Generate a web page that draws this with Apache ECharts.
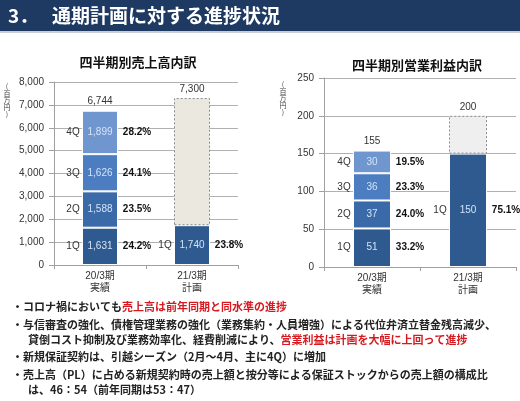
<!DOCTYPE html>
<html><head><meta charset="utf-8">
<script src="https://cdn.jsdelivr.net/npm/echarts@6/dist/echarts.min.js"></script>
<style>html,body{margin:0;padding:0;background:#fff}#c{width:520px;height:401px}</style>
</head><body><div id="c"></div>
<script>
// ---- data ----
const categories = ['20/3期\n実績', '21/3期\n計画'];
const quarterNames = ['1Q', '2Q', '3Q', '4Q'];
const salesActual = [1631, 1588, 1626, 1899];
const salesActualPct = ['24.2%', '23.5%', '24.1%', '28.2%'];
const salesPlan1Q = 1740;
const salesPlan1QPct = '23.8%';
const salesTotals = [6744, 7300];
const profitActual = [51, 37, 36, 30];
const profitActualPct = ['33.2%', '24.0%', '23.3%', '19.5%'];
const profitPlan1Q = 150;
const profitPlan1QPct = '75.1%';
const profitTotals = [155, 200];
const salesTicks = [0, 1000, 2000, 3000, 4000, 5000, 6000, 7000, 8000];
const profitTicks = [0, 50, 100, 150, 200, 250];

// ---- styles ----
const qColors = ['#2f5a8f', '#3b6aa8', '#4c7dc0', '#7096d0'];
const NUM = "'Liberation Sans', 'Noto Sans CJK JP', sans-serif";
const JP = "'Noto Sans CJK JP', sans-serif";

function segLabel(names, vals, pcts, barW) {
  const wa = 18, wc = 38;
  return {
    show: true, position: 'inside', offset: [(wc - wa) / 2, 0],
    formatter: p => (vals[p.dataIndex] == null ? '' :
      '{a|' + names[p.dataIndex] + '}{b|' + vals[p.dataIndex].toLocaleString('en-US') + '}{c|' + pcts[p.dataIndex] + '}'),
    rich: {
      a: { width: wa, fontSize: 10, color: '#333', fontFamily: NUM },
      b: { width: barW, fontSize: 10, color: '#d4e3f7', fontFamily: NUM },
      c: { width: wc, fontSize: 10, fontWeight: 'bold', color: '#111', fontFamily: NUM }
    }
  };
}

function buildSeries(gi, actual, actualPct, plan1Q, plan1QPct, totals, restColor, barW) {
  const s = [];
  for (let q = 0; q < 4; q++) {
    const vals = [actual[q], q === 0 ? plan1Q : null];
    const names = [quarterNames[q], q === 0 ? '1Q' : null];
    const pcts = [actualPct[q], q === 0 ? plan1QPct : null];
    s.push({
      type: 'bar', xAxisIndex: gi, yAxisIndex: gi, stack: 'st' + gi, barWidth: barW,
      data: vals.map(v => v == null ? '-' : v),
      itemStyle: { color: qColors[q], borderColor: '#ffffff', borderWidth: 1 },
      label: segLabel(names, vals, pcts, barW), silent: true
    });
  }
  s.push({
    type: 'bar', xAxisIndex: gi, yAxisIndex: gi, stack: 'st' + gi, barWidth: barW,
    data: ['-', totals[1] - plan1Q],
    itemStyle: { color: restColor, borderColor: '#8a8a8a', borderWidth: 1, borderType: [2, 2] },
    silent: true
  });
  s.push({
    type: 'bar', xAxisIndex: gi, yAxisIndex: gi, barWidth: barW, barGap: '-100%', z: 1,
    data: totals,
    itemStyle: { color: 'rgba(0,0,0,0)' },
    label: { show: true, position: 'top', distance: 4, fontSize: 10, color: '#333', fontFamily: NUM,
      formatter: p => p.value.toLocaleString('en-US') },
    silent: true
  });
  return s;
}

function yAxis(gi, ticks) {
  return {
    type: 'value', gridIndex: gi, min: ticks[0], max: ticks[ticks.length - 1],
    interval: ticks[1] - ticks[0],
    axisLine: { show: true, lineStyle: { color: '#a0a0a0' } },
    axisTick: { show: true, length: 5, lineStyle: { color: '#a0a0a0' } },
    axisLabel: { fontSize: 10, color: '#333', fontFamily: NUM, margin: 10,
      formatter: v => v.toLocaleString('en-US') },
    splitLine: { lineStyle: { color: '#b0b0b0', width: 1 } }
  };
}
function xAxis(gi) {
  return {
    type: 'category', gridIndex: gi, data: categories,
    axisLine: { lineStyle: { color: '#a0a0a0' } },
    axisTick: { show: true, length: 4, lineStyle: { color: '#a0a0a0' } },
    axisLabel: { fontSize: 10, color: '#333', fontFamily: NUM, lineHeight: 12, margin: 5 }
  };
}

const chart = echarts.init(document.getElementById('c'), null, { renderer: 'canvas' });
chart.setOption({
  animation: false,
  grid: [
    { left: 54, right: 282, top: 82, bottom: 136 },
    { left: 324, right: 4, top: 78, bottom: 134 }
  ],
  xAxis: [xAxis(0), xAxis(1)],
  yAxis: [yAxis(0, salesTicks), yAxis(1, profitTicks)],
  series: [
    ...buildSeries(0, salesActual, salesActualPct, salesPlan1Q, salesPlan1QPct, salesTotals, '#ebe8df', 36),
    ...buildSeries(1, profitActual, profitActualPct, profitPlan1Q, profitPlan1QPct, profitTotals, '#efefef', 38)
  ],
  graphic: [
    { type: 'rect', shape: { x: 0, y: 0, width: 520, height: 31 }, style: { fill: '#1e3a63' }, z: 10 },
    { type: 'rect', shape: { x: 0, y: 31, width: 520, height: 2 }, style: { fill: '#c9ced6' }, z: 10 },
    { type: 'text', x: 8, y: 16, z: 11, style: { text: '3．', fill: '#fff', font: "bold 19px 'Noto Sans CJK JP'", verticalAlign: 'middle' } },
    { type: 'text', x: 52, y: 16, z: 11, style: { text: '通期計画に対する進捗状況', fill: '#fff', font: "bold 19px 'Noto Sans CJK JP'", verticalAlign: 'middle' } },
    { type: 'text', x: 138, y: 62, style: { text: '四半期別売上高内訳', fill: '#111', font: "bold 13px 'Noto Sans CJK JP'", align: 'center', verticalAlign: 'middle' } },
    { type: 'text', x: 417, y: 65, style: { text: '四半期別営業利益内訳', fill: '#111', font: "bold 13px 'Noto Sans CJK JP'", align: 'center', verticalAlign: 'middle' } },
    { type: 'text', x: 7, y: 100, style: { text: '(\n百\n万\n円\n)', fill: '#444', font: "7px 'Noto Sans CJK JP'", lineHeight: 7, align: 'center', verticalAlign: 'middle' } },
    { type: 'text', x: 283, y: 98, style: { text: '(\n百\n万\n円\n)', fill: '#444', font: "7px 'Noto Sans CJK JP'", lineHeight: 7, align: 'center', verticalAlign: 'middle' } },
    { type: 'text', x: 12, y: 307, style: { text: '・{k|コロナ禍においても}{r|売上高は前年同期と同水準の進捗}', fill: '#222', font: "bold 11px 'Noto Sans CJK JP'", verticalAlign: 'middle',
      rich: { k: { fill: '#222', font: "bold 11px 'Noto Sans CJK JP'" }, r: { fill: '#d71920', font: "bold 11px 'Noto Sans CJK JP'" } } } },
    { type: 'text', x: 12, y: 325, style: { text: '・与信審査の強化、債権管理業務の強化（業務集約・人員増強）による代位弁済立替金残高減少、', fill: '#222', font: "bold 11px 'Noto Sans CJK JP'", verticalAlign: 'middle' } },
    { type: 'text', x: 28, y: 340, style: { text: '{k|貸倒コスト抑制及び業務効率化、経費削減により、}{r|営業利益は計画を大幅に上回って進捗}', fill: '#222', font: "bold 11px 'Noto Sans CJK JP'", verticalAlign: 'middle',
      rich: { k: { fill: '#222', font: "bold 11px 'Noto Sans CJK JP'" }, r: { fill: '#d71920', font: "bold 11px 'Noto Sans CJK JP'" } } } },
    { type: 'text', x: 12, y: 357, style: { text: '・新規保証契約は、引越シーズン（2月～4月、主に4Q）に増加', fill: '#222', font: "bold 11px 'Noto Sans CJK JP'", verticalAlign: 'middle' } },
    { type: 'text', x: 12, y: 375, style: { text: '・売上高（PL）に占める新規契約時の売上額と按分等による保証ストックからの売上額の構成比', fill: '#222', font: "bold 11px 'Noto Sans CJK JP'", verticalAlign: 'middle' } },
    { type: 'text', x: 28, y: 390, style: { text: 'は、46：54（前年同期は53：47）', fill: '#222', font: "bold 11px 'Noto Sans CJK JP'", verticalAlign: 'middle' } }
  ]
});
</script></body></html>
